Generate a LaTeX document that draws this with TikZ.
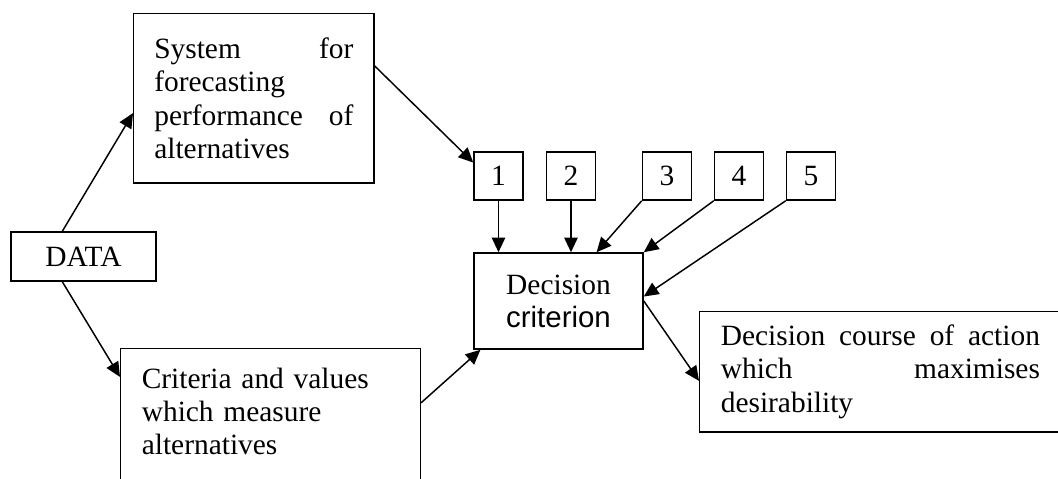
\documentclass[tikz,border=0pt]{standalone}
\usepackage{fontspec}
\setmainfont{Liberation Serif}
\setsansfont{Liberation Sans}
\usetikzlibrary{arrows.meta}

\begin{document}
\begin{tikzpicture}[x=0.408pt, y=-0.408pt, line width=0.6pt,
    box/.style={draw, font=\fontsize{12}{13.5}\selectfont},
    numbox/.style={box, minimum width=20pt, minimum height=19.6pt, inner sep=0pt},
    arr/.style={-{Triangle[length=6pt,width=5.5pt]}}]
    \useasboundingbox (0,0) rectangle (1058,478);

    \node (data) at (83.5,256.5) [box, minimum width=59.2pt, minimum height=20pt] {DATA};
    \node (sys) at (133,13) [box, anchor=north west, text width=81.2pt, inner xsep=8.4pt,
        minimum height=69pt, align=left]
        {System \hfill for\\ forecasting\\ performance \hfill of\\ alternatives};
    \node (crit) at (120,348) [box, anchor=north west, text width=105pt, inner xsep=8.6pt,
        inner ysep=7.8pt, align=left]
        {Criteria and values\\ which measure\\ alternatives\\ \mbox{}};

    \node (n1) at (498.5,176) [numbox] {1};
    \node (n2) at (571,176) [numbox] {2};
    \node (n3) at (667,176) [numbox] {3};
    \node (n4) at (739,176) [numbox] {4};
    \node (n5) at (811,176) [numbox] {5};

    \node (dec) at (558.5,301) [box, minimum width=69pt, minimum height=39.2pt, align=center]
        {Decision\\ {\sffamily criterion}};
    \node (course) at (699,311) [box, anchor=north west, text width=130.2pt, inner xsep=8.6pt,
        minimum height=49pt, align=left]
        {Decision \hfill course \hfill of \hfill action\\ which \hfill maximises\\ desirability};

    \draw[arr] (data.130) -- (sys.187);
    \draw[arr] (data.230) -- ([yshift=-11.8pt]crit.north west);
    \draw[arr] (sys.15) -- (n1.152);

    \draw[arr] (n1.south) -- (n1.south |- dec.north);
    \draw[arr] (n2.south) -- (n2.south |- dec.north);
    \draw[arr] (n3.south west) -- (dec.52);
    \draw[arr] (n4.south west) -- (dec.north east);
    \draw[arr] (n5.south west) -- (dec.3);

    \draw[arr] ([yshift=-22.4pt]crit.north east) -- (dec.212);
    \draw[arr] (dec.east) -- ([yshift=-3.7pt]course.west);
\end{tikzpicture}
\end{document}
